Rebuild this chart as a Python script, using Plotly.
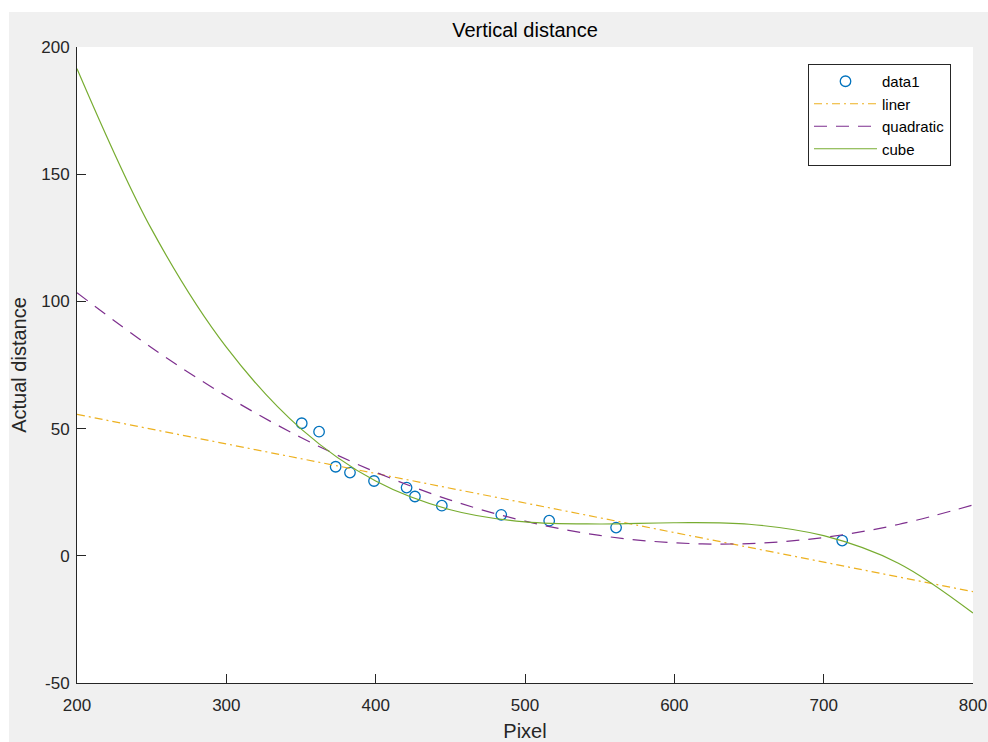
import plotly.graph_objects as go

# ---- data ----
pixel = [350.5, 362.1, 373.2, 382.8, 398.9, 420.7, 426.3, 444.3, 484.1, 516.2, 561.0, 712.4]
actual = [52.1, 48.8, 35.0, 32.7, 29.4, 26.8, 23.3, 19.7, 16.1, 13.8, 11.1, 6.0]

fit_x = [200, 250, 300, 350, 400, 450, 500, 550, 600, 650, 700, 750, 800]
liner = [55.6, 49.8, 44.0, 38.2, 32.4, 26.6, 20.7, 14.9, 9.1, 3.3, -2.5, -8.3, -14.1]
quadratic = [103.4, 81.8, 62.8, 46.5, 32.9, 21.9, 13.6, 8.0, 5.1, 4.8, 7.2, 12.3, 20.0]
cube = [191.5, 128.3, 82.0, 49.9, 29.4, 18.1, 13.3, 12.5, 13.0, 12.4, 7.9, -2.9, -22.5]

x_ticks = [200, 300, 400, 500, 600, 700, 800]
y_ticks = [-50, 0, 50, 100, 150, 200]

# ---- layout geometry ----
W, H = 988, 742
L, R, T, B = 77, 15, 47, 59
pw, ph = W - L - R, H - T - B

FONT = "Liberation Sans, Arial, sans-serif"
AX = "#262626"

fig = go.Figure()
fig.add_trace(go.Scatter(
    x=pixel, y=actual, mode="markers", name="data1",
    marker=dict(symbol="circle-open", size=10.5, color="#0072BD",
                line=dict(width=1.3, color="#0072BD")),
))
fig.add_trace(go.Scatter(
    x=fit_x, y=liner, mode="lines", name="liner",
    line=dict(color="#EDB120", width=1.2, dash="8px,4px,2px,4px"),
))
fig.add_trace(go.Scatter(
    x=fit_x, y=quadratic, mode="lines", name="quadratic", line_shape="spline",
    line=dict(color="#7E2F8E", width=1.2, dash="13px,9px"),
))
fig.add_trace(go.Scatter(
    x=fit_x, y=cube, mode="lines", name="cube", line_shape="spline",
    line=dict(color="#77AC30", width=1.2),
))

# white strips at top and left of the figure window
top_y0 = (H - B - 12) / ph
left_x1 = (9 - L) / pw
shapes = [
    dict(type="rect", xref="paper", yref="paper", x0=-0.3, x1=1.3, y0=top_y0, y1=1.3,
         fillcolor="white", line=dict(width=0), layer="below"),
    dict(type="rect", xref="paper", yref="paper", x0=-0.3, x1=left_x1, y0=-0.3, y1=1.3,
         fillcolor="white", line=dict(width=0), layer="below"),
]

fig.update_layout(
    template="none",
    width=W, height=H,
    margin=dict(l=L, r=R, t=T, b=B, pad=0, autoexpand=False),
    paper_bgcolor="#f0f0f0",
    plot_bgcolor="white",
    font=dict(family=FONT, color=AX, size=17),
    title=dict(text="Vertical distance", x=0.5, xref="paper", xanchor="center",
               y=1 - 30 / H, yref="container", yanchor="middle",
               font=dict(size=20, color="#000000")),
    showlegend=True,
    legend=dict(x=(808 - L) / pw, y=(H - B - 64) / ph, xanchor="left", yanchor="top",
                bgcolor="white", bordercolor=AX, borderwidth=1,
                font=dict(size=15, color="#000000"), itemwidth=63,
                entrywidth=144, entrywidthmode="pixels",
                tracegroupgap=0),
    shapes=shapes,
)
fig.update_xaxes(
    range=[200, 800], tickvals=x_ticks, ticktext=[str(v) for v in x_ticks],
    showgrid=False, zeroline=False, showline=True, linecolor=AX, linewidth=1,
    ticks="inside", ticklen=9, tickcolor=AX, tickwidth=1, mirror=False,
    automargin=False, ticklabelstandoff=7,
    tickfont=dict(size=17, color=AX),
    title=dict(text="Pixel", font=dict(size=20, color=AX), standoff=10),
)
fig.update_yaxes(
    range=[-50, 200], tickvals=y_ticks, ticktext=[str(v) for v in y_ticks],
    showgrid=False, zeroline=False, showline=True, linecolor=AX, linewidth=1,
    ticks="inside", ticklen=9, tickcolor=AX, tickwidth=1, mirror=False,
    automargin=False, ticklabelstandoff=3,
    tickfont=dict(size=17, color=AX),
    title=dict(text="Actual distance", font=dict(size=20, color=AX), standoff=9),
)

fig.write_html(
    "out.html",
    config={"displayModeBar": False},
    post_script="document.body.style.margin='0';document.body.style.overflow='hidden';",
)
